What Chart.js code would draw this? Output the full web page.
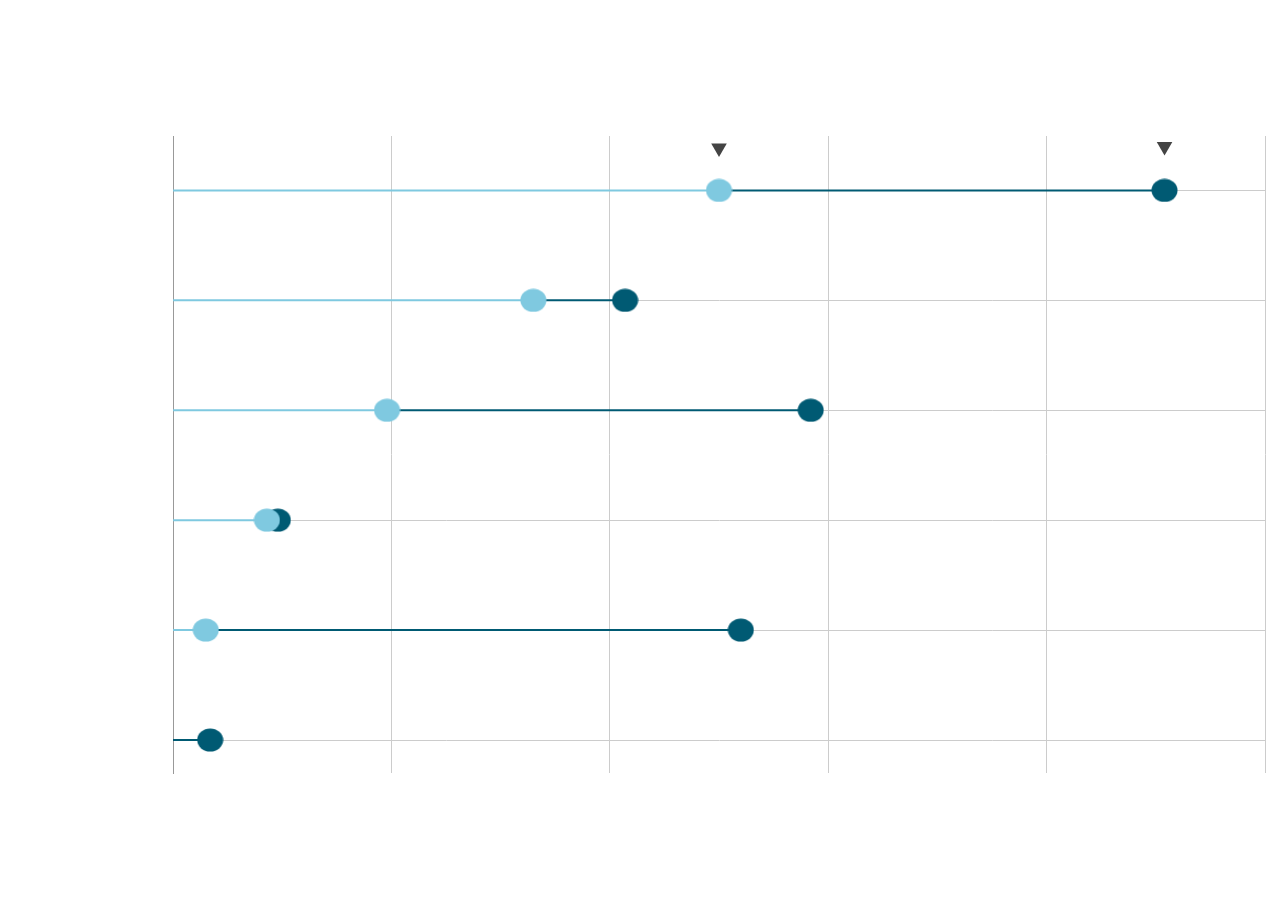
<!DOCTYPE html>
<html lang="en">
<head>
    <meta charset="UTF-8">
    <title>Dumbbell Chart</title>
    <script src="https://cdn.jsdelivr.net/npm/chart.js"></script>
    <style>
        html, body { margin: 0; padding: 0; background: #fff; }
        .chart-container { width: 1280px; height: 924px; }
    </style>
</head>
<body>
    <div class="chart-container">
        <canvas id="dumbbellChart" width="1280" height="924"></canvas>
    </div>

    <script>
        // one row per category, top to bottom
        const rows = [0, 1, 2, 3, 4, 5];
        const startValues = [2.5, 1.65, 0.98, 0.43, 0.15, null];
        const endValues = [4.54, 2.07, 2.92, 0.48, 2.60, 0.17];
        // down-pointing markers above the first row
        const markerX = [2.5, 4.54];
        const markerY = [-0.385, -0.4];
        const xTicks = [0, 1, 2, 3, 4, 5];

        const lightBlue = '#7fc9e0';
        const darkBlue = '#005a73';

        // slightly wide dots, like the original
        function dot(color) {
            const c = document.createElement('canvas');
            c.width = 27;
            c.height = 24;
            const g = c.getContext('2d');
            g.fillStyle = color;
            g.beginPath();
            g.ellipse(13.5, 12, 13, 11.5, 0, 0, Math.PI * 2);
            g.fill();
            return c;
        }

        const datasets = [];

        datasets.push({
            label: 'start',
            data: rows.filter(i => startValues[i] !== null).map(i => ({ x: startValues[i], y: i })),
            pointStyle: dot(lightBlue),
            order: 0
        });
        datasets.push({
            label: 'end',
            data: rows.map(i => ({ x: endValues[i], y: i })),
            pointStyle: dot(darkBlue),
            order: 1
        });
        datasets.push({
            label: 'markers',
            data: markerX.map((x, k) => ({ x: x, y: markerY[k] })),
            backgroundColor: '#444444',
            borderWidth: 0,
            pointStyle: 'triangle',
            rotation: 180,
            pointRadius: 9,
            order: 2
        });

        // connecting segments: axis -> start (light), start -> end (dark)
        rows.forEach(i => {
            const s = startValues[i];
            if (s !== null) {
                datasets.push({
                    label: 'lead' + i,
                    data: [{ x: 0, y: i }, { x: s, y: i }],
                    showLine: true,
                    borderColor: lightBlue,
                    borderWidth: 2,
                    pointRadius: 0,
                    order: 4
                });
            }
            datasets.push({
                label: 'gap' + i,
                data: [{ x: s === null ? 0 : s, y: i }, { x: endValues[i], y: i }],
                showLine: true,
                borderColor: darkBlue,
                borderWidth: 2,
                pointRadius: 0,
                order: 3
            });
        });

        new Chart(document.getElementById('dumbbellChart'), {
            type: 'scatter',
            data: { datasets: datasets },
            options: {
                responsive: false,
                animation: false,
                layout: { padding: { left: 173, right: 15, top: 136, bottom: 151 } },
                plugins: { legend: { display: false }, tooltip: { enabled: false } },
                scales: {
                    x: {
                        type: 'linear',
                        min: 0,
                        max: 5,
                        afterBuildTicks: scale => { scale.ticks = xTicks.map(v => ({ value: v })); },
                        ticks: { display: false },
                        grid: { color: '#cccccc', lineWidth: 1, drawTicks: false },
                        border: { display: false }
                    },
                    y: {
                        type: 'linear',
                        reverse: true,
                        min: -0.495,
                        max: 5.3,
                        afterBuildTicks: scale => { scale.ticks = rows.map(v => ({ value: v })); },
                        ticks: { display: false },
                        grid: { color: '#cccccc', lineWidth: 1, drawTicks: false },
                        border: { display: true, color: '#999999', width: 1 }
                    }
                }
            }
        });
    </script>
</body>
</html>
